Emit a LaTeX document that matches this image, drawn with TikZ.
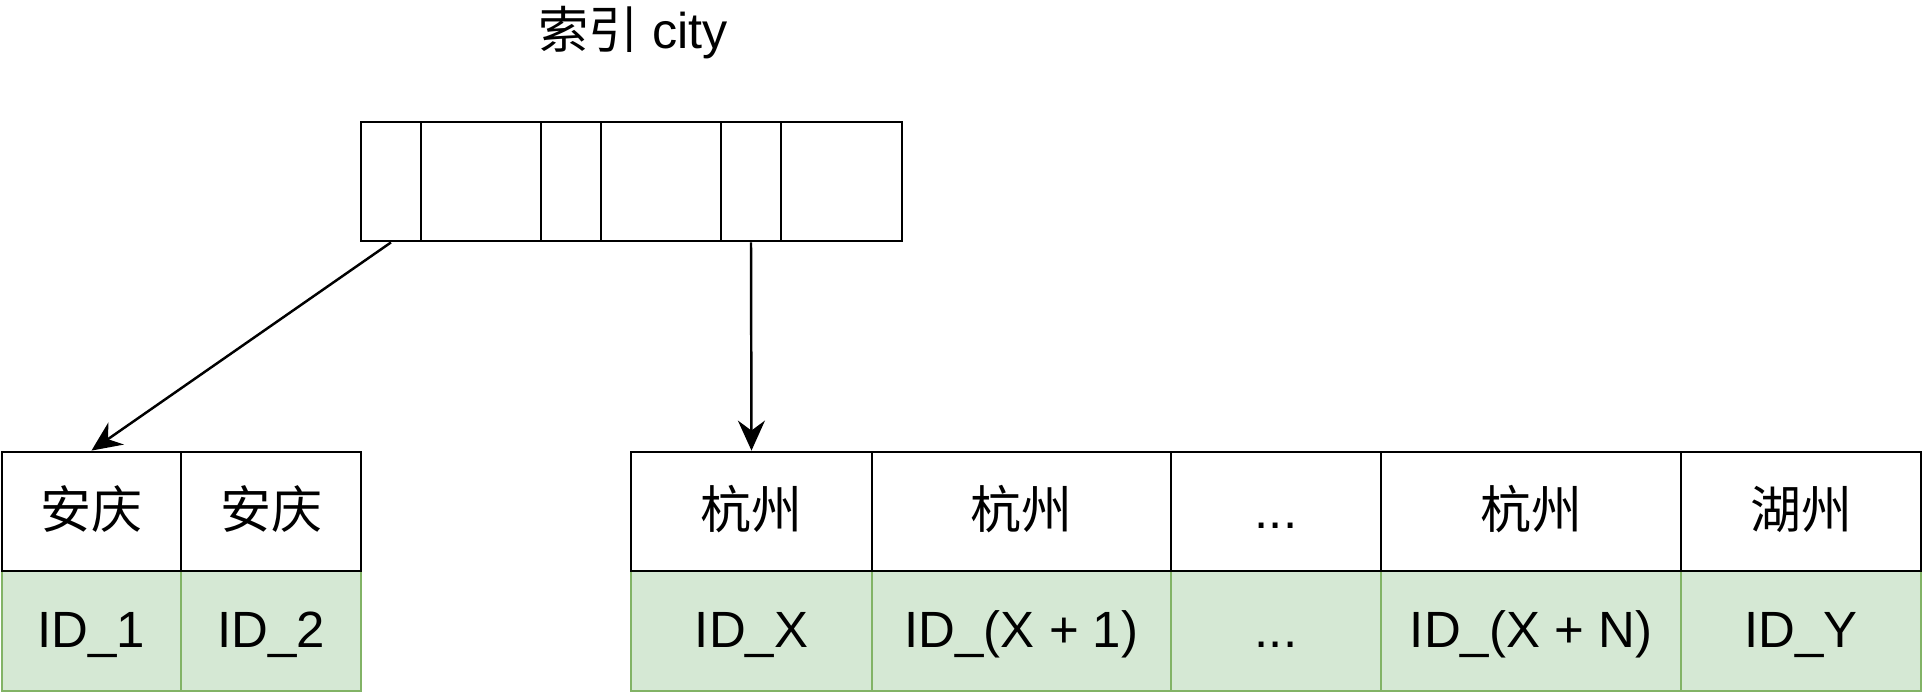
\documentclass[tikz,border=0pt]{standalone}
\usepackage{fontspec}
\setmainfont{Liberation Sans}
\newfontfamily\cjk{Noto Sans CJK SC}
\usetikzlibrary{arrows.meta}
\definecolor{idfill}{HTML}{D5E8D4}
\definecolor{idline}{HTML}{82B366}

\begin{document}
\begin{tikzpicture}[x=0.1mm,y=-0.1mm,
  idx/.style={draw,line width=0.8pt,minimum height=11.9mm,inner sep=0pt},
  city/.style={draw,fill=white,line width=0.8pt,minimum height=11.9mm,inner sep=0pt,text height=1em,text depth=0.04em,font=\fontsize{14.5}{17}\selectfont},
  rowid/.style={draw=idline,fill=idfill,line width=0.7pt,minimum height=12mm,inner sep=0pt,text height=1em,text depth=0.04em,font=\fontsize{14.5}{17}\selectfont},
  ptr/.style={-{Stealth[length=3mm,width=2.7mm,inset=1mm]},line width=0.7pt}]
\useasboundingbox (0,0) rectangle (1923,693);
\node[font=\fontsize{14.3}{17}\selectfont] (title) at (633,33) {{\cjk 索引} city};
\node[idx,minimum width=6mm] (i1) at (391,181.5) {};
\node[idx,minimum width=12mm] (i2) at (481,181.5) {};
\node[idx,minimum width=6mm] (i3) at (571,181.5) {};
\node[idx,minimum width=12mm] (i4) at (661,181.5) {};
\node[idx,minimum width=6mm] (i5) at (751,181.5) {};
\node[idx,minimum width=12.1mm] (i6) at (841.5,181.5) {};
\node[rowid,minimum width=17.9mm] (id1) at (91.5,631) {ID\_1};
\node[rowid,minimum width=18mm] (id2) at (271,631) {ID\_2};
\node[rowid,minimum width=24.1mm] (idx1) at (751.5,631) {ID\_X};
\node[rowid,minimum width=29.9mm] (idx2) at (1021.5,631) {ID\_(X + 1)};
\node[rowid,minimum width=21mm] (iddots) at (1276,631) {...};
\node[rowid,minimum width=30mm] (idxn) at (1531,631) {ID\_(X + N)};
\node[rowid,minimum width=24mm] (idy) at (1801,631) {ID\_Y};
\node[city,minimum width=17.9mm] (aq1) at (91.5,511.5) {\cjk 安庆};
\node[city,minimum width=18mm] (aq2) at (271,511.5) {\cjk 安庆};
\node[city,minimum width=24.1mm] (hz1) at (751.5,511.5) {\cjk 杭州};
\node[city,minimum width=29.9mm] (hz2) at (1021.5,511.5) {\cjk 杭州};
\node[city,minimum width=21mm] (dots) at (1276,511.5) {...};
\node[city,minimum width=30mm] (hz3) at (1531,511.5) {\cjk 杭州};
\node[city,minimum width=24mm] (huz) at (1801,511.5) {\cjk 湖州};
\draw[ptr] (i1.south) -- (aq1.north);
\draw[ptr] (i5.south) -- (hz1.north);
\end{tikzpicture}
\end{document}
